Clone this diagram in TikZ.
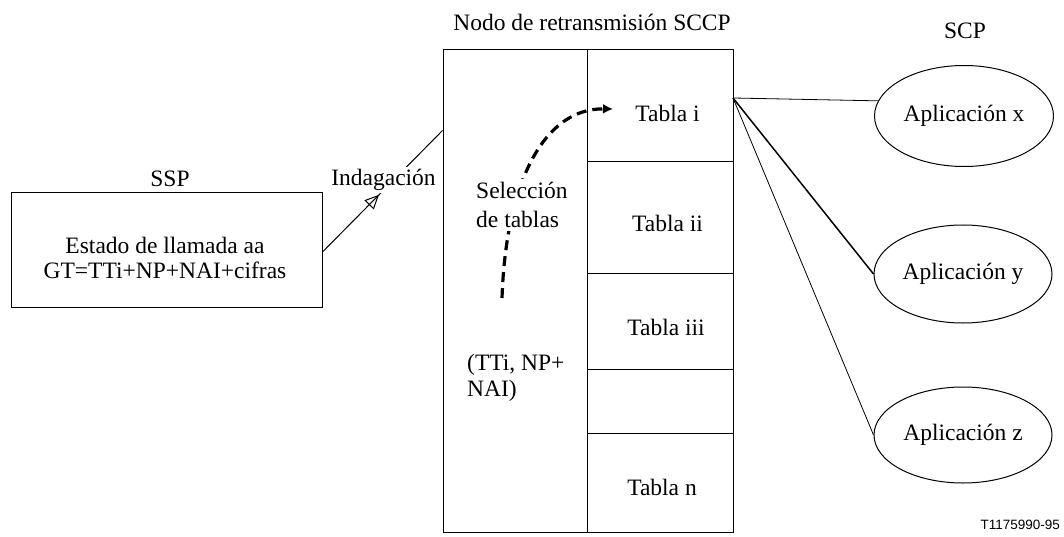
\documentclass[tikz,border=0pt]{standalone}
\usepackage{fontspec}
\setmainfont{Liberation Serif}
\newfontfamily\sansfnt{Liberation Sans}
\usetikzlibrary{shapes.geometric,arrows.meta,decorations.markings,calc}
\begin{document}
\begin{tikzpicture}[x=1pt,y=-1pt,
  txt/.style={font=\fontsize{23.5}{28}\selectfont, inner sep=0pt},
  box/.style={draw, line width=1pt, rectangle, inner sep=0pt},
  ell/.style={draw, line width=1pt, ellipse, inner sep=0pt, font=\fontsize{23.5}{28}\selectfont},
  conn/.style={line width=0.8pt},
  thickconn/.style={line width=1.5pt},
  query/.style={line width=1pt, postaction={decorate},
    decoration={markings, mark=at position 0.47 with {\arrow{Triangle[open,length=14pt,width=13pt,line width=1pt]}}}},
  dcurve/.style={line width=3.2pt, dash pattern=on 10pt off 6pt, -{Latex[length=10pt,width=10pt]}},
  ]
\useasboundingbox (0,0) rectangle (1064,537);

% titles
\node[txt, anchor=base] (nodolbl) at (592,31) {Nodo de retransmisión SCCP};
\node[txt, anchor=base] (scplbl) at (965,39) {SCP};
\node[txt, anchor=base] (ssplbl) at (170,187) {SSP};

% SSP box
\node[box, minimum width=311pt, minimum height=114pt] (sspbox) at (166.5,250) {};
\node[txt, align=center, font=\fontsize{23.5}{25}\selectfont] (ssptxt) at (165,258) {Estado de llamada aa\\GT=TTi+NP+NAI+cifras};

% relay node
\node[box, minimum width=144pt, minimum height=482pt] (lcol) at (515,291) {};
\node[box, minimum width=146pt, minimum height=112pt] (ci) at (660,106) {};
\node[box, minimum width=146pt, minimum height=111pt] (cii) at (660,217.5) {};
\node[box, minimum width=146pt, minimum height=96pt] (ciii) at (660,321) {};
\node[box, minimum width=146pt, minimum height=64pt] (cblank) at (660,401) {};
\node[box, minimum width=146pt, minimum height=99pt] (cn) at (660,482.5) {};
\node[txt, anchor=base] (ti) at (667.5,121.5) {Tabla i};
\node[txt, anchor=base] (tii) at (667.5,231) {Tabla ii};
\node[txt, anchor=base] (tiii) at (666,335) {Tabla iii};
\node[txt, anchor=base] (tn) at (662,495) {Tabla n};

% SCP applications
\node[ell, minimum width=179pt, minimum height=101pt] (ax) at (964,116) {Aplicación x};
\node[ell, minimum width=178pt, minimum height=98pt] (ay) at (963,274) {Aplicación y};
\node[ell, minimum width=178pt, minimum height=96pt] (az) at (963,435) {Aplicación z};

\coordinate (hub) at (733,98);
\draw[conn] (hub) -- (ax.170);
\draw[thickconn] (hub) -- (ay.west);
\draw[conn] (hub) -- (az.west);

% query
\coordinate (qin) at ($(lcol.north west)+(0,81)$);
\draw[query] ($(sspbox.east)+(0,2)$) -- (qin);
\node[txt, fill=white, inner sep=2pt, anchor=base] (indlbl) at (383.5,185.7) {Indagación};

% table selection
\coordinate (cstart) at (502,298);
\coordinate (cend) at (613,109);
\draw[dcurve] (cstart) .. controls (506,180) and (545,108) .. (cend);
\node[txt, fill=white, inner sep=3pt, align=left, anchor=west, font=\fontsize{23.5}{29}\selectfont] (sel) at (473,205) {Selección\\de tablas};

\node[txt, align=left, anchor=west, font=\fontsize{23.5}{26}\selectfont] (key) at (467,378) {(TTi, NP+\\NAI)};

\node[inner sep=0pt, anchor=base east, font=\sansfnt\fontsize{13.5}{16}\selectfont] (ref) at (1060,529) {T1175990-95};
\end{tikzpicture}
\end{document}
